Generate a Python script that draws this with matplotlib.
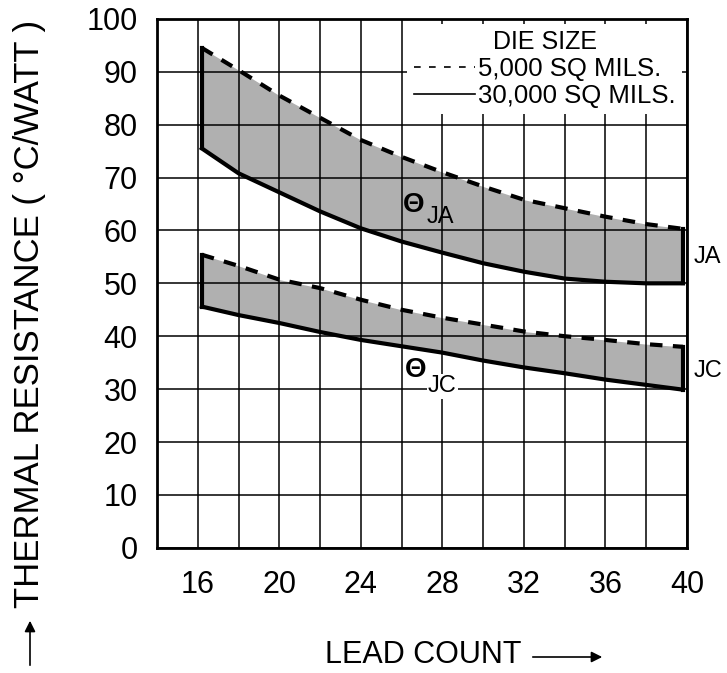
import numpy as np
import matplotlib
matplotlib.use("Agg")
import matplotlib.pyplot as plt
from matplotlib.lines import Line2D

plt.rcParams['font.family'] = ['Liberation Sans', 'DejaVu Sans']

# theta JA band (upper dashed = 5,000 sq mils, lower solid = 30,000 sq mils)
ja_x = [16.2, 18.0, 20.0, 22.0, 24.0, 26.0, 28.0, 30.0, 32.0, 34.0, 36.0, 38.0, 39.8]
ja_small = [94.5, 90.3, 85.5, 81.3, 77.1, 73.9, 71.0, 68.3, 65.8, 64.2, 62.6, 61.2, 60.3]
ja_large = [75.5, 70.8, 67.2, 63.6, 60.4, 57.9, 55.8, 53.8, 52.2, 50.9, 50.3, 50.0, 50.0]

# theta JC band
jc_x = [16.2, 18.0, 20.0, 22.0, 24.0, 26.0, 28.0, 30.0, 32.0, 34.0, 36.0, 38.0, 39.8]
jc_small = [55.4, 53.3, 50.7, 49.1, 46.9, 45.0, 43.5, 42.2, 40.9, 40.0, 39.3, 38.5, 38.0]
jc_large = [45.6, 44.0, 42.5, 40.8, 39.3, 38.1, 36.9, 35.4, 34.1, 33.0, 31.8, 30.8, 29.9]

x_ticks = [16, 20, 24, 28, 32, 36, 40]
y_ticks = list(range(0, 101, 10))

fig = plt.figure(figsize=(7.27, 6.73), dpi=100)
ax = fig.add_axes([0.216, 0.186, 0.729, 0.786])

fill_col = '#b0b0b0'
for x, up, lo in [(ja_x, ja_small, ja_large), (jc_x, jc_small, jc_large)]:
    ax.fill_between(x, lo, up, color=fill_col, lw=0, zorder=1)
    ax.plot(x, up, color='black', lw=3, ls=(0, (3, 2.5)), zorder=4)
    ax.plot(x, lo, color='black', lw=3, zorder=4)
    # closing edges of the band
    ax.plot([x[0], x[0]], [lo[0], up[0]], color='black', lw=3, zorder=4)
    ax.plot([x[-1], x[-1]], [lo[-1], up[-1]], color='black', lw=3, zorder=4)

ax.set_xlim(14, 40)
ax.set_ylim(0, 100)
ax.set_xticks(x_ticks)
ax.set_xticks(np.arange(14, 40, 2), minor=True)
ax.set_yticks(y_ticks)
ax.grid(True, which='both', color='black', lw=1.1, zorder=2)
ax.set_axisbelow(False)
ax.tick_params(which='both', length=0)
ax.tick_params(axis='x', pad=16, labelsize=22)
ax.tick_params(axis='y', pad=14, labelsize=22)
for s in ax.spines.values():
    s.set_linewidth(2)
    s.set_zorder(5)

# band labels
ax.text(26.6, 64.9, 'Θ', fontsize=20, fontweight='bold', ha='center', va='center', zorder=6)
ax.text(27.9, 62.5, 'JA', fontsize=17, ha='center', va='center', zorder=6)
ax.text(26.7, 33.7, 'Θ', fontsize=20, fontweight='bold', ha='center', va='center', zorder=6,
        bbox=dict(facecolor='white', edgecolor='none', pad=1))
ax.text(28.0, 30.5, 'JC', fontsize=17, ha='center', va='center', zorder=6,
        bbox=dict(facecolor='white', edgecolor='none', pad=1))
ax.text(40.3, 55.0, 'JA', fontsize=17, ha='left', va='center', clip_on=False)
ax.text(40.3, 33.5, 'JC', fontsize=17, ha='left', va='center', clip_on=False)

handles = [Line2D([], [], color='black', lw=1.2, ls=(0, (4, 5))),
           Line2D([], [], color='black', lw=1.2)]
leg = ax.legend(handles, ['5,000 SQ MILS.', '30,000 SQ MILS.'], title='DIE SIZE',
                loc='upper right', fontsize=18.5, title_fontsize=18, frameon=True,
                facecolor='white', edgecolor='none', framealpha=1, fancybox=False,
                handlelength=2.4, handletextpad=0.1, borderaxespad=0.2,
                labelspacing=0.1, borderpad=0.25)
leg.set_zorder(7)

# axis labels with arrows
fig.text(30 / 727, 1 - 314 / 673, 'THERMAL RESISTANCE ( °C/WATT )', rotation=90,
         fontsize=25, ha='center', va='center')
ax.annotate('', xy=(30 / 727, 1 - 618 / 673), xytext=(30 / 727, 1 - 668 / 673),
            xycoords='figure fraction', textcoords='figure fraction',
            arrowprops=dict(arrowstyle='-|>', color='black', lw=1.2, mutation_scale=16))
fig.text(423 / 727, 1 - 655 / 673, 'LEAD COUNT', fontsize=22, ha='center', va='center')
ax.annotate('', xy=(605 / 727, 1 - 657 / 673), xytext=(530 / 727, 1 - 657 / 673),
            xycoords='figure fraction', textcoords='figure fraction',
            arrowprops=dict(arrowstyle='-|>', color='black', lw=1.2, mutation_scale=16))

fig.savefig('out.png', dpi=100)
